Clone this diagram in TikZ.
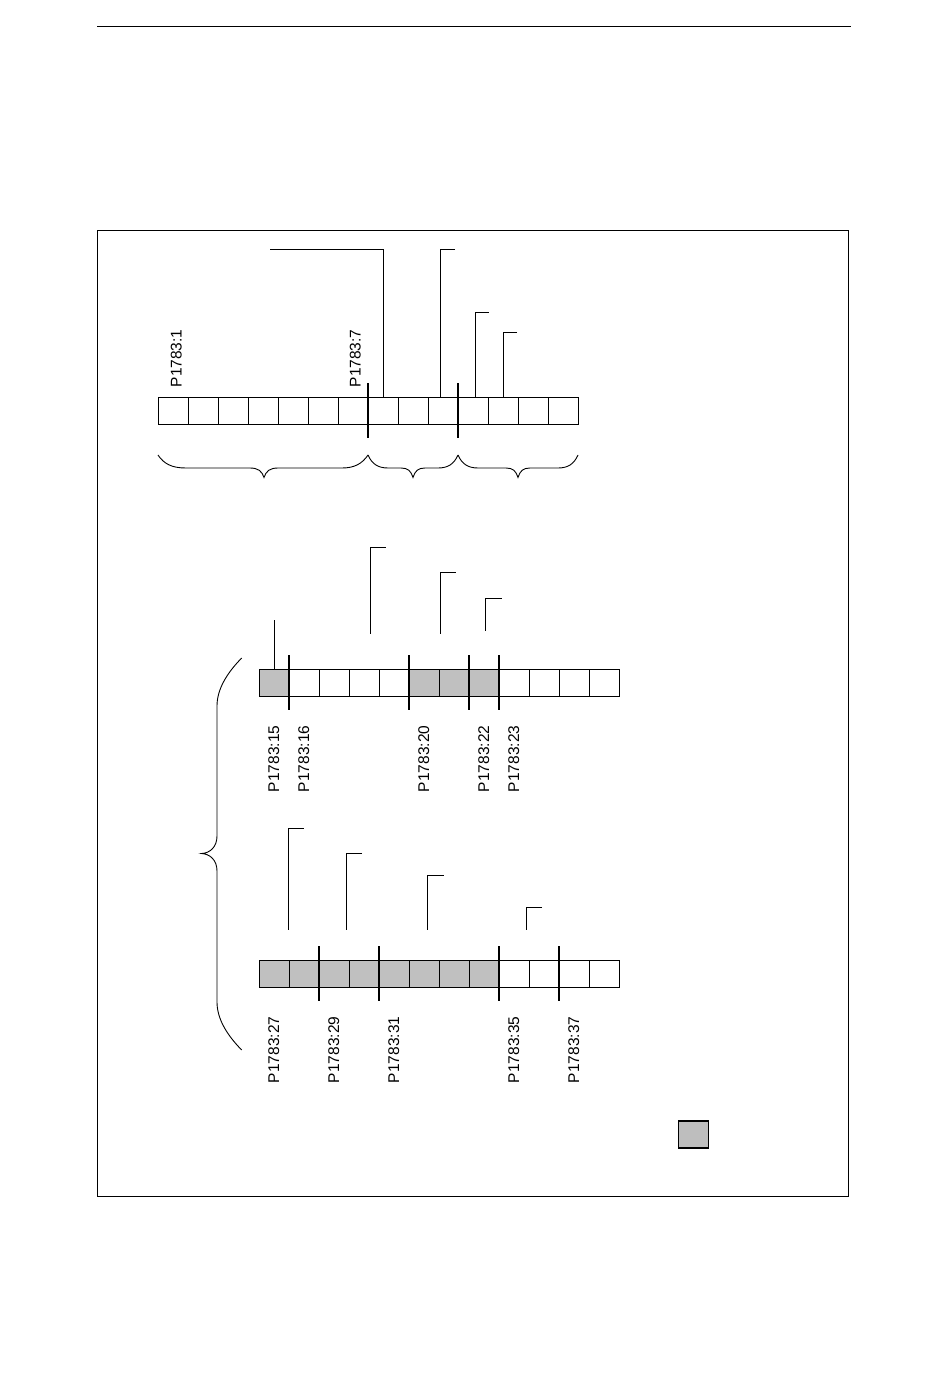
\documentclass[tikz,border=0pt]{standalone}
\usepackage{fontspec}
\setmainfont{Liberation Sans}
\definecolor{shade}{RGB}{192,192,192}
\definecolor{keyfill}{RGB}{190,190,190}
\begin{document}
\begin{tikzpicture}[x=1pt,y=-1pt,
  cell/.style={draw,line width=0.9pt,minimum width=30pt,minimum height=27pt,inner sep=0pt,outer sep=0pt},
  shaded/.style={cell,fill=shade},
  divider/.style={line width=2.4pt},
  leader/.style={line width=0.9pt},
  lbl/.style={rotate=90,inner sep=0pt,font=\fontsize{15.5}{18}\selectfont},
  brace/.style={line width=0.9pt}]
\useasboundingbox (0,0) rectangle (950,1388);
% header rule and frame
\draw[line width=1.2pt] (97,26.5) -- (850.5,26.5);
\draw[line width=1pt] (97.5,231) rectangle (848,1196);

% ---------- row 1 ----------
\foreach \i in {1,...,14} \node[cell] (a\i) at (143+30*\i,410.5) {};
\draw[divider] ([yshift=14pt]a7.north east) -- ([yshift=-14pt]a7.south east);
\draw[divider] ([yshift=14pt]a10.north east) -- ([yshift=-14pt]a10.south east);
\coordinate (e1) at (270,249.5);
\coordinate (e2) at (455,249.5);
\coordinate (e3) at (488.5,312);
\coordinate (e4) at (517,332.5);
\draw[leader] (e1) -| (a8.north);
\draw[leader] (e2) -| ([xshift=-3pt]a10.north);
\draw[leader] (e3) -| ([xshift=2pt]a11.north);
\draw[leader] (e4) -| (a12.north);
\node[lbl,anchor=base west] (t1) at ([xshift=8.5pt,yshift=9.5pt]a1.north) {P1783:1};
\node[lbl,anchor=base west] (t7) at ([xshift=7.5pt,yshift=9.5pt]a7.north) {P1783:7};
% braces below row 1
\draw[brace] (158,455) .. controls (164,464) and (172,468) .. (186,468) -- (250,468)
  .. controls (258,468) and (262,471) .. (264,477.5) .. controls (266,471) and (270,468) .. (278,468)
  -- (342,468) .. controls (354,468) and (362,464) .. (368,455);
\draw[brace] (368,455) .. controls (372,464) and (378,468) .. (388,468) -- (401,468)
  .. controls (408,468) and (411,471) .. (413,477.5) .. controls (415,471) and (418,468) .. (425,468)
  -- (438,468) .. controls (448,468) and (454,464) .. (458,455);
\draw[brace] (458,455) .. controls (462,464) and (468,468) .. (478,468) -- (506,468)
  .. controls (513,468) and (516,471) .. (518,477.5) .. controls (520,471) and (523,468) .. (530,468)
  -- (558,468) .. controls (568,468) and (574,464) .. (578,455);

% ---------- row 2 ----------
\foreach \i in {2,3,4,5,9,10,11,12} \node[cell] (b\i) at (244+30*\i,682.5) {};
\foreach \i in {1,6,7,8} \node[shaded] (b\i) at (244+30*\i,682.5) {};
\foreach \i in {1,5,7,8}
  \draw[divider] ([yshift=14pt]b\i.north east) -- ([yshift=-14pt]b\i.south east);
\draw[leader] (b1.north) -- ++(0,-49);
\coordinate (f2a) at (385.5,547);   \coordinate (f2b) at (370,634);
\coordinate (f3a) at (455.5,572.5); \coordinate (f3b) at (440,634);
\coordinate (f4a) at (501.5,598.5); \coordinate (f4b) at (485.5,631);
\draw[leader] (f2a) -| (f2b);
\draw[leader] (f3a) -| (f3b);
\draw[leader] (f4a) -| (f4b);
\node[lbl,anchor=base east] (t15) at ([xshift=5pt,yshift=-29.5pt]b1.south) {P1783:15};
\node[lbl,anchor=base east] (t16) at ([xshift=5pt,yshift=-29.5pt]b2.south) {P1783:16};
\node[lbl,anchor=base east] (t20) at ([xshift=5pt,yshift=-29.5pt]b6.south) {P1783:20};
\node[lbl,anchor=base east] (t22) at ([xshift=5pt,yshift=-29.5pt]b8.south) {P1783:22};
\node[lbl,anchor=base east] (t23) at ([xshift=5pt,yshift=-29.5pt]b9.south) {P1783:23};

% ---------- row 3 ----------
\foreach \i in {9,10,11,12} \node[cell] (c\i) at (244+30*\i,973.5) {};
\foreach \i in {1,...,8} \node[shaded] (c\i) at (244+30*\i,973.5) {};
\foreach \i in {2,4,8,10}
  \draw[divider] ([yshift=14pt]c\i.north east) -- ([yshift=-14pt]c\i.south east);
\coordinate (g1a) at (303.5,828.5); \coordinate (g1b) at (288.5,929.5);
\coordinate (g2a) at (362,853.5);   \coordinate (g2b) at (346.5,929.5);
\coordinate (g3a) at (443.5,875);   \coordinate (g3b) at (427.5,929.5);
\coordinate (g4a) at (542,907.5);   \coordinate (g4b) at (526.5,929.5);
\draw[leader] (g1a) -| (g1b);
\draw[leader] (g2a) -| (g2b);
\draw[leader] (g3a) -| (g3b);
\draw[leader] (g4a) -| (g4b);
\node[lbl,anchor=base east] (t27) at ([xshift=5pt,yshift=-29.5pt]c1.south) {P1783:27};
\node[lbl,anchor=base east] (t29) at ([xshift=5pt,yshift=-29.5pt]c3.south) {P1783:29};
\node[lbl,anchor=base east] (t31) at ([xshift=5pt,yshift=-29.5pt]c5.south) {P1783:31};
\node[lbl,anchor=base east] (t35) at ([xshift=5pt,yshift=-29.5pt]c9.south) {P1783:35};
\node[lbl,anchor=base east] (t37) at ([xshift=5pt,yshift=-29.5pt]c11.south) {P1783:37};

% big left brace
\draw[brace] (241.7,658) .. controls (226,674) and (217,690) .. (217,706) -- (217,836)
  .. controls (217,847) and (210,853) .. (201.7,853.5) .. controls (210,854) and (217,860) .. (217,871)
  -- (217,1002) .. controls (217,1018) and (226,1034) .. (241.7,1050);

% legend key
\node[draw,line width=1.5pt,fill=keyfill,minimum width=30pt,minimum height=27pt,inner sep=0pt] (key) at (693.5,1134.5) {};
\end{tikzpicture}
\end{document}
